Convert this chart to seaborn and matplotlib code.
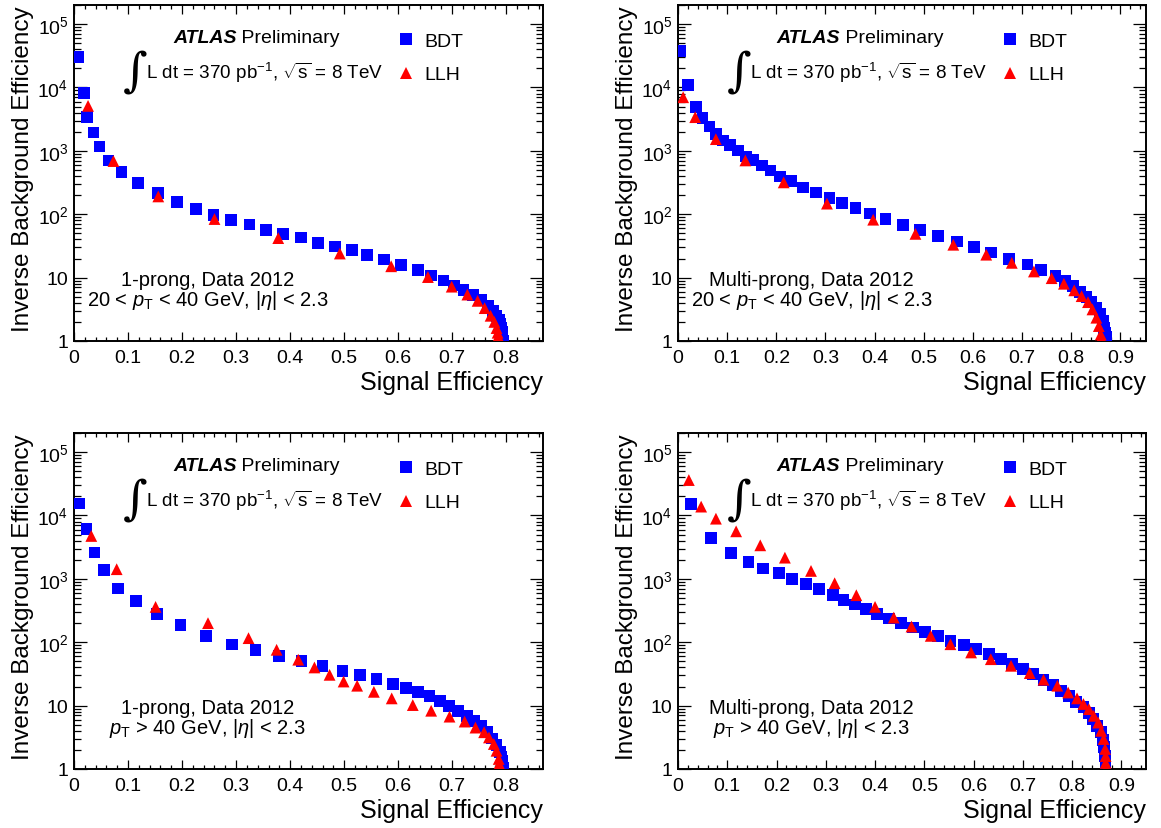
import numpy as np
import pandas as pd
import matplotlib
matplotlib.use("Agg")
import matplotlib.pyplot as plt
import seaborn as sns
from matplotlib.lines import Line2D
from matplotlib.ticker import FixedLocator, LogLocator, MultipleLocator, NullFormatter

# ── Data (signal eff. vs 1/background eff.) ──────────────────────────────────

# 1-prong, 20 < pT < 40 GeV
p1_bdt_x = [0.008, 0.018, 0.024, 0.036, 0.047, 0.064, 0.088, 0.118, 0.155, 0.190,
            0.226, 0.258, 0.291, 0.325, 0.355, 0.387, 0.420, 0.452, 0.483, 0.514,
            0.542, 0.574, 0.605, 0.636, 0.661, 0.684, 0.703, 0.721, 0.738, 0.753,
            0.766, 0.775, 0.782, 0.786, 0.789, 0.791, 0.792, 0.793, 0.793, 0.794]
p1_bdt_y = [29900, 8100, 3400, 1950, 1170, 706, 463, 310, 216, 158,
            121, 96, 81, 69, 57, 49, 43, 35, 31, 27,
            23, 19.3, 15.7, 13.1, 10.8, 9.0, 7.5, 6.4, 5.3, 4.4,
            3.6, 3.0, 2.5, 2.15, 1.85, 1.6, 1.4, 1.25, 1.12, 1.02]
p1_llh_x = [0.026, 0.073, 0.156, 0.260, 0.378, 0.492, 0.587, 0.655, 0.699, 0.728,
            0.747, 0.760, 0.771, 0.778, 0.782, 0.784, 0.785, 0.786]
p1_llh_y = [5120, 690, 191, 84, 42, 24, 15.1, 10.2, 7.2, 5.4,
            4.3, 3.3, 2.5, 2.0, 1.6, 1.35, 1.18, 1.05]

# Multi-prong, 20 < pT < 40 GeV
p2_bdt_x = [0.004, 0.020, 0.037, 0.050, 0.064, 0.078, 0.092, 0.106, 0.122, 0.139,
            0.152, 0.171, 0.188, 0.207, 0.230, 0.254, 0.280, 0.308, 0.334, 0.361,
            0.391, 0.422, 0.457, 0.492, 0.529, 0.567, 0.602, 0.636, 0.674, 0.711,
            0.739, 0.768, 0.788, 0.803, 0.818, 0.831, 0.841, 0.850, 0.858, 0.864,
            0.867, 0.869, 0.870, 0.871]
p2_bdt_y = [38000, 10800, 4880, 3270, 2420, 1860, 1460, 1245, 1014, 817,
            723, 589, 491, 395, 330, 265, 221, 180, 150, 126,
            103, 85, 68, 56, 45, 37, 30, 25, 19.8, 16.1,
            13.1, 10.5, 8.8, 7.3, 6.0, 4.9, 4.1, 3.35, 2.63, 2.06,
            1.62, 1.35, 1.15, 1.02]
p2_llh_x = [0.0105, 0.035, 0.077, 0.137, 0.215, 0.303, 0.397, 0.483, 0.560, 0.627,
            0.679, 0.724, 0.760, 0.785, 0.806, 0.821, 0.834, 0.843, 0.851, 0.856,
            0.860, 0.861, 0.862]
p2_llh_y = [7010, 3400, 1530, 706, 318, 147, 82, 49, 33, 23,
            17.1, 12.5, 9.8, 8.0, 6.3, 5.1, 4.1, 3.15, 2.33, 1.72,
            1.27, 1.12, 1.02]

# 1-prong, pT > 40 GeV
p3_bdt_x = [0.009, 0.023, 0.038, 0.056, 0.082, 0.115, 0.154, 0.197, 0.245, 0.292,
            0.336, 0.380, 0.421, 0.460, 0.497, 0.529, 0.560, 0.590, 0.615, 0.637,
            0.658, 0.677, 0.694, 0.711, 0.727, 0.741, 0.753, 0.764, 0.774, 0.782,
            0.788, 0.791, 0.792, 0.793, 0.794]
p3_bdt_y = [15500, 6050, 2600, 1380, 703, 449, 277, 186, 126, 92,
            75, 60, 50, 42, 35, 30, 26, 21.8, 19.1, 16.5,
            14.3, 11.9, 9.95, 8.3, 6.9, 5.8, 4.8, 3.9, 3.04, 2.39,
            1.83, 1.55, 1.35, 1.18, 1.04]
p3_llh_x = [0.032, 0.079, 0.151, 0.248, 0.323, 0.375, 0.415, 0.445, 0.473, 0.499,
            0.524, 0.555, 0.588, 0.627, 0.661, 0.695, 0.723, 0.743, 0.759, 0.768,
            0.777, 0.782, 0.786, 0.787, 0.788]
p3_llh_y = [4750, 1420, 361, 200, 116, 76, 53, 40, 30.6, 24,
            20.6, 16.5, 13.0, 10.2, 8.3, 6.7, 5.6, 4.5, 3.8, 3.15,
            2.48, 1.94, 1.44, 1.2, 1.04]

# Multi-prong, pT > 40 GeV
p4_bdt_x = [0.026, 0.067, 0.107, 0.143, 0.173, 0.205, 0.232, 0.260, 0.287, 0.314,
            0.336, 0.359, 0.381, 0.404, 0.428, 0.452, 0.477, 0.502, 0.527, 0.553,
            0.580, 0.605, 0.631, 0.655, 0.678, 0.700, 0.721, 0.742, 0.761, 0.778,
            0.793, 0.808, 0.823, 0.834, 0.843, 0.851, 0.858, 0.862, 0.865, 0.867,
            0.868, 0.868]
p4_bdt_y = [15200, 4410, 2590, 1850, 1452, 1225, 986, 832, 685, 552,
            460, 393, 332, 280, 236, 200, 171, 146, 126, 106,
            90, 78, 65, 54, 45, 37.6, 31.4, 25.6, 21.1, 17.1,
            14.0, 11.5, 9.4, 7.6, 6.1, 4.8, 3.8, 2.9, 2.2, 1.62,
            1.3, 1.04]
p4_llh_x = [0.022, 0.047, 0.077, 0.118, 0.167, 0.217, 0.270, 0.318, 0.362, 0.400,
            0.438, 0.474, 0.513, 0.553, 0.595, 0.635, 0.676, 0.714, 0.742, 0.770,
            0.792, 0.810, 0.823, 0.834, 0.844, 0.853, 0.859, 0.864, 0.867, 0.868,
            0.868, 0.868]
p4_llh_y = [36200, 13800, 8900, 5620, 3380, 2160, 1334, 853, 552, 361,
            245, 177, 126, 93, 69, 54, 42.5, 32.6, 25.6, 20.6,
            16.1, 13.0, 10.6, 8.8, 6.9, 5.4, 4.0, 2.97, 2.07, 1.6,
            1.25, 1.04]

PANEL_LINE1 = ["1-prong, Data 2012", "Multi-prong, Data 2012",
               "1-prong, Data 2012", "Multi-prong, Data 2012"]
PANEL_LINE2 = [r"20 < $p_{\mathrm{T}}$ < 40 GeV, |$\eta$| < 2.3",
               r"20 < $p_{\mathrm{T}}$ < 40 GeV, |$\eta$| < 2.3",
               r"$p_{\mathrm{T}}$ > 40 GeV, |$\eta$| < 2.3",
               r"$p_{\mathrm{T}}$ > 40 GeV, |$\eta$| < 2.3"]
X_MAX = [0.868, 0.952, 0.868, 0.95]

Y_TICKS = [1, 10, 100, 1000, 10000, 100000]
Y_TICKLABELS = ["1", "10", r"10$^{2}$", r"10$^{3}$", r"10$^{4}$", r"10$^{5}$"]

METHODS = ["BDT", "LLH"]
COLORS = {"BDT": "#0000ff", "LLH": "#ff0000"}
MARKERS = {"BDT": "s", "LLH": "^"}

# ── Style ─────────────────────────────────────────────────────────────────────

sns.set_style("ticks")
plt.rcParams["font.family"] = ["Liberation Sans", "DejaVu Sans"]
plt.rcParams["mathtext.fontset"] = "custom"
plt.rcParams["mathtext.rm"] = "Liberation Sans"
plt.rcParams["mathtext.it"] = "Liberation Sans:italic"
plt.rcParams["mathtext.bf"] = "Liberation Sans:bold"
plt.rcParams["axes.linewidth"] = 1.4
for key in ["text.color", "axes.labelcolor", "xtick.color", "ytick.color", "axes.edgecolor"]:
    plt.rcParams[key] = "black"


def make_frame(bx, by, lx, ly) -> pd.DataFrame:
    return pd.concat([
        pd.DataFrame({"eff": bx, "rej": by, "method": "BDT"}),
        pd.DataFrame({"eff": lx, "rej": ly, "method": "LLH"}),
    ], ignore_index=True)


frames = [
    make_frame(p1_bdt_x, p1_bdt_y, p1_llh_x, p1_llh_y),
    make_frame(p2_bdt_x, p2_bdt_y, p2_llh_x, p2_llh_y),
    make_frame(p3_bdt_x, p3_bdt_y, p3_llh_x, p3_llh_y),
    make_frame(p4_bdt_x, p4_bdt_y, p4_llh_x, p4_llh_y),
]

fig = plt.figure(figsize=(11.61, 8.29), dpi=100)
W, H = 1161, 829
# axes frames in pixels: (left, top, right, bottom)
boxes = [(74, 6, 543, 342), (678, 6, 1146, 342),
         (74, 434, 543, 770), (678, 434, 1146, 770)]

for i, (df, (l, t, r, b)) in enumerate(zip(frames, boxes)):
    ax = fig.add_axes([l / W, 1 - b / H, (r - l) / W, (b - t) / H])
    sns.scatterplot(
        data=df, x="eff", y="rej", hue="method", style="method",
        hue_order=METHODS, style_order=METHODS,
        palette=COLORS, markers=MARKERS, s=72, linewidth=0,
        legend=False, ax=ax, zorder=3,
    )
    ax.set_yscale("log")
    ax.set_xlim(0, X_MAX[i])
    ax.set_ylim(1, 2.0e5)

    ax.yaxis.set_major_locator(FixedLocator(Y_TICKS))
    ax.set_yticklabels(Y_TICKLABELS)
    ax.yaxis.set_minor_locator(LogLocator(base=10, subs=np.arange(2, 10)))
    ax.yaxis.set_minor_formatter(NullFormatter())
    ax.xaxis.set_major_locator(MultipleLocator(0.1))
    ax.xaxis.set_minor_locator(MultipleLocator(0.02))
    ax.xaxis.set_major_formatter(
        matplotlib.ticker.FuncFormatter(lambda v, _: "0" if abs(v) < 1e-9 else f"{v:.1f}"))

    ax.tick_params(which="both", direction="in", top=True, right=True,
                   labelsize=14, width=0.9, color="black")
    ax.tick_params(axis="y", which="major", length=9.5, pad=4)
    ax.tick_params(axis="y", which="minor", length=5)
    ax.tick_params(axis="x", which="major", length=6.5, pad=6)
    ax.tick_params(axis="x", which="minor", length=3)

    ax.set_xlabel("Signal Efficiency", fontsize=18, loc="right")
    ax.xaxis.set_label_coords(1.0, -0.085)
    ax.set_ylabel("Inverse Background Efficiency", fontsize=17.5, loc="top")
    ax.yaxis.set_label_coords(-0.085, 1.0)

    # ATLAS label
    atlas = ax.text(0.211, 0.902, "ATLAS", transform=ax.transAxes, fontsize=14,
                    fontweight="bold", fontstyle="italic", va="center", ha="left")
    ax.annotate(" Preliminary", xy=(1, 0), xycoords=atlas, fontsize=14,
                va="bottom", ha="left")
    ax.text(0.104, 0.80, "\u222b", transform=ax.transAxes, fontsize=34,
            family="DejaVu Serif", fontweight="light", va="center", ha="left")
    ax.text(0.154, 0.80, r"L dt = 370 pb$^{\mathregular{-1}}$, $\sqrt{\mathrm{s}}$ = 8 TeV",
            transform=ax.transAxes, fontsize=13.6, va="center", ha="left")

    # selection text
    ax.text(0.285, 0.183, PANEL_LINE1[i], transform=ax.transAxes, fontsize=14.5,
            va="center", ha="center")
    ax.text(0.285, 0.124, PANEL_LINE2[i], transform=ax.transAxes, fontsize=14.5,
            va="center", ha="center")

    handles = [Line2D([], [], linestyle="none", marker=MARKERS[m], markersize=8.2,
                      markerfacecolor=COLORS[m], markeredgewidth=0) for m in METHODS]
    ax.legend(handles, METHODS, loc="upper left", bbox_to_anchor=(0.692, 0.918),
              frameon=False, fontsize=14, handlelength=0.8, handletextpad=0.55,
              labelspacing=0.8, borderpad=0, borderaxespad=0)

fig.savefig("out.png", dpi=100)
